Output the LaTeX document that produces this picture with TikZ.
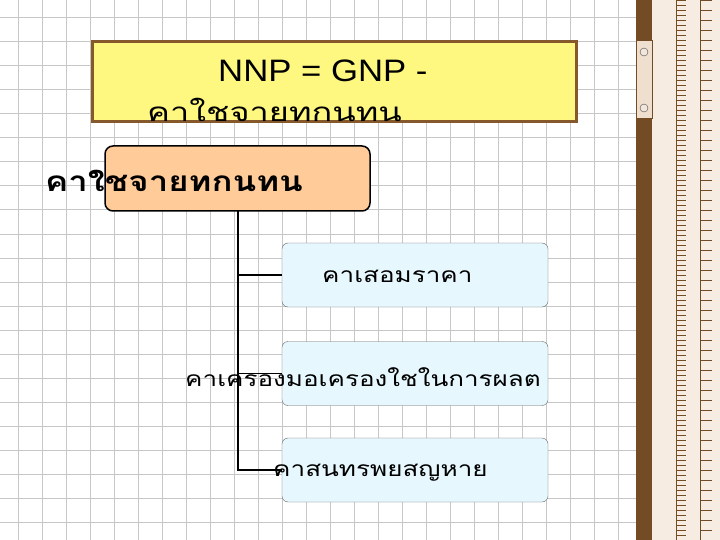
\documentclass[tikz,border=0pt]{standalone}
\usepackage{fontspec}
\setmainfont{Liberation Sans}
\newfontfamily\thaifont[Script=Thai]{Loma}
\newfontfamily\thaiwide[Script=Thai,FakeStretch=1.24]{Loma}
\newfontfamily\thaiwider[Script=Thai,FakeStretch=1.32]{Loma}
\newfontfamily\latwide[FakeStretch=1.12]{Liberation Sans}
\begin{document}
\begin{tikzpicture}[x=1pt,y=-1pt,
  leaf/.style={draw=black!60,fill=cyan!10,rounded corners=6pt,minimum width=266pt,minimum height=64pt},
  txt/.style={font=\thaiwide\fontsize{21}{24}\selectfont,anchor=west,inner sep=0}]
\useasboundingbox (0,0) rectangle (720,540);
\fill[white] (0,0) rectangle (720,540);
\foreach \i in {0,...,26} {\draw[black!22,line width=1pt] (18+24*\i,0) -- (18+24*\i,540);}
\foreach \j in {0,...,22} {\draw[black!22,line width=1pt] (0,18+24*\j) -- (720,18+24*\j);}
% ruler
\fill[brown!60!black] (636,0) rectangle (652,540);
\fill[brown!15!white] (652,0) rectangle (720,540);
\foreach \k in {0,...,107} {\draw[brown!60!black,line width=0.4pt] (676,5*\k) -- (686,5*\k);}
\foreach \k in {0,...,53} {\draw[brown!60!black,line width=0.4pt] (700,10*\k) -- (712,10*\k);}
\draw[brown!60!black,line width=0.6pt] (676,0) -- (676,540) (700,0)--(700,540);
\fill[brown!25!white,draw=brown!60!black] (636,40) rectangle (652,118);
\draw[black!70,fill=brown!20] (644,52) circle (4) (644,108) circle (4);
% title
\node[draw=brown!70!black,line width=3pt,fill=yellow!50,minimum width=484pt,minimum height=80pt] (title) at (334.5,82) {};
\node[font=\latwide\fontsize{31}{32}\selectfont,anchor=west,inner sep=0] (t1) at (218,71) {NNP = GNP -};
\node[txt,font=\thaiwider\fontsize{26}{28}\selectfont] (t2) at (147,110) {คาใชจายทกนทน};
% root
\node[draw=black,line width=1.5pt,fill=orange!40!white,rounded corners=8pt,minimum width=265pt,minimum height=65pt] (root) at (237.5,178.5) {};
\node[txt,font=\thaiwide\bfseries\fontsize{28}{30}\selectfont] (rt) at (45,181) {คาใชจายทกนทน};
% leaves
\node[leaf] (a) at (415,275) {};
\node[leaf] (b) at (415,373.5) {};
\node[leaf] (c) at (415,470) {};
\node[txt] (at) at (322,276) {คาเสอมราคา};
\node[txt] (bt) at (185,377) {คาเครองมอเครองใชในการผลต};
\node[txt] (ct) at (273,473) {คาสนทรพยสญหาย};
\coordinate (v) at (238,211);
\draw[line width=1.2pt] (v) |- (a.west);
\draw[line width=1.2pt] (v) |- (b.west);
\draw[line width=1.2pt] (v) |- (c.west);
\end{tikzpicture}
\end{document}
